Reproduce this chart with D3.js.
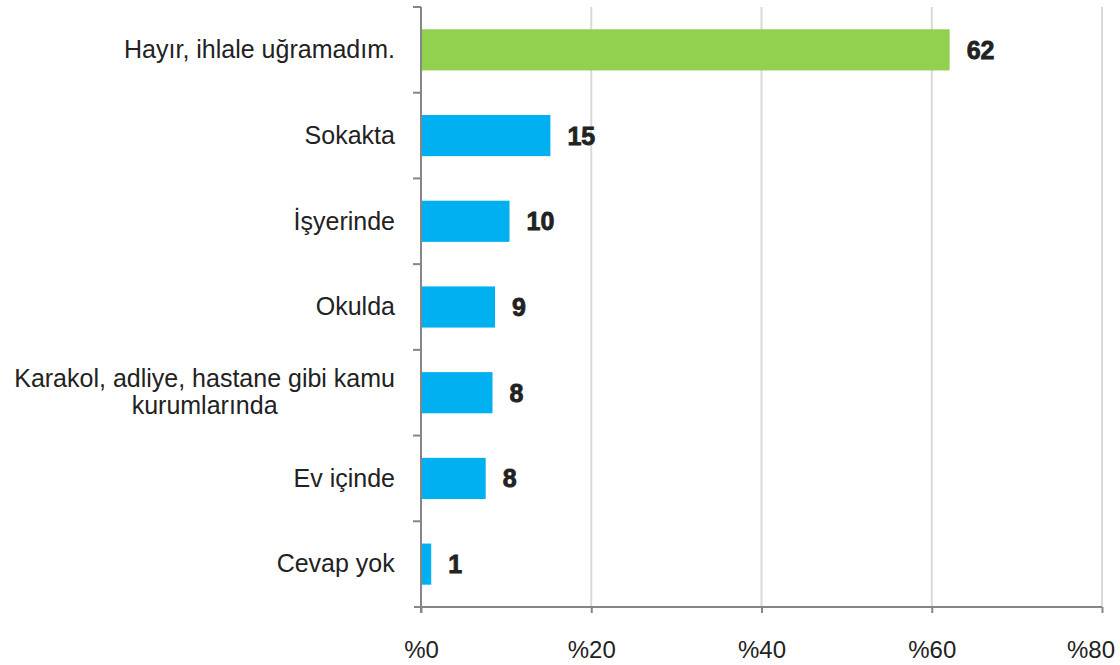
<!DOCTYPE html>
<html>
<head>
<meta charset="utf-8">
<script src="https://cdn.jsdelivr.net/npm/d3@7"></script>
<style>
  html, body { margin: 0; padding: 0; background: #ffffff; }
  svg { display: block; }
</style>
</head>
<body>
<svg id="chart" width="1120" height="665"></svg>
<script>
// Survey answers, top to bottom
const categories = [
  "Hayır, ihlale uğramadım.",
  "Sokakta",
  "İşyerinde",
  "Okulda",
  "Karakol, adliye, hastane gibi kamu kurumlarında",
  "Ev içinde",
  "Cevap yok"
];
const values = [62.1, 15.2, 10.4, 8.7, 8.4, 7.6, 1.2];
const tickValues = [0, 20, 40, 60, 80];
const barColors = ["#92d050", "#00b0f0", "#00b0f0", "#00b0f0", "#00b0f0", "#00b0f0", "#00b0f0"];

const margin = { left: 421, right: 18, top: 7, bottom: 58 };
const W = 1120, H = 665;
const svg = d3.select("#chart");

const x = d3.scaleLinear().domain([0, 80]).range([margin.left, W - margin.right]);
const y = d3.scaleBand().domain(categories).range([margin.top, H - margin.bottom]).paddingInner(0.52).paddingOuter(0.26);

const axisColor = "#868686";
const labelFont = "'Liberation Sans', Arial, sans-serif";

// vertical gridlines
svg.append("g")
  .selectAll("line")
  .data(tickValues.filter(d => d > 0))
  .join("line")
  .attr("x1", d => x(d)).attr("x2", d => x(d))
  .attr("y1", margin.top).attr("y2", H - margin.bottom)
  .attr("stroke", "#d9d9d9").attr("stroke-width", 2);

// bars
svg.append("g")
  .selectAll("rect")
  .data(categories)
  .join("rect")
  .attr("x", x(0))
  .attr("y", d => y(d))
  .attr("width", (d, i) => x(values[i]) - x(0))
  .attr("height", y.bandwidth())
  .attr("fill", (d, i) => barColors[i]);

// value labels
svg.append("g")
  .selectAll("text")
  .data(categories)
  .join("text")
  .attr("x", (d, i) => x(values[i]) + 17)
  .attr("y", d => y(d) + y.bandwidth() / 2)
  .attr("dy", "0.36em")
  .attr("font-family", labelFont)
  .attr("font-weight", "bold")
  .attr("font-size", 25)
  .attr("stroke", "#222222")
  .attr("stroke-width", 0.8)
  .attr("fill", "#222222")
  .text((d, i) => Math.round(values[i]));

// x axis
const xAxis = d3.axisBottom(x)
  .tickValues(tickValues)
  .tickSize(6)
  .tickSizeOuter(0)
  .tickPadding(16)
  .tickFormat(d => "%" + d);
const gx = svg.append("g")
  .attr("transform", `translate(0,${H - margin.bottom})`)
  .call(xAxis);
gx.select(".domain").attr("stroke", axisColor).attr("stroke-width", 2)
  .attr("d", `M${x(0) - 7},0H${x(80)}`);
gx.selectAll(".tick line").attr("stroke", axisColor).attr("stroke-width", 2);
gx.selectAll(".tick text")
  .attr("font-family", labelFont)
  .attr("font-size", 24)
  .attr("fill", "#222222")
  .attr("y", 51)
  .attr("dy", 0);
// keep the last tick label inside the chart
gx.selectAll(".tick text").each(function () {
  const b = this.getBBox();
  const tr = this.parentNode.transform.baseVal.consolidate().matrix.e;
  const right = tr + b.x + b.width;
  if (right > W - 5) d3.select(this).attr("x", (W - 5) - right);
});

// y axis: line with ticks at category boundaries
const boundaries = d3.range(categories.length + 1).map(i =>
  margin.top + i * (H - margin.bottom - margin.top) / categories.length);
svg.append("line")
  .attr("x1", x(0)).attr("x2", x(0))
  .attr("y1", margin.top).attr("y2", H - margin.bottom + 6)
  .attr("stroke", axisColor).attr("stroke-width", 2);
svg.append("g")
  .selectAll("line")
  .data(boundaries.slice(0, -1))
  .join("line")
  .attr("x1", x(0) - 8).attr("x2", x(0))
  .attr("y1", d => d).attr("y2", d => d)
  .attr("stroke", axisColor).attr("stroke-width", 2);

// category labels (long one wraps to two lines)
const wrapLines = {
  "Karakol, adliye, hastane gibi kamu kurumlarında": ["Karakol, adliye, hastane gibi kamu", "kurumlarında"]
};
const catG = svg.append("g");
categories.forEach(c => {
  const lines = wrapLines[c] || [c];
  const cy = y(c) + y.bandwidth() / 2;
  const lh = 27;
  const t = catG.append("text")
    .attr("text-anchor", "middle")
    .attr("font-family", labelFont)
    .attr("font-size", 25)
    .attr("fill", "#222222");
  lines.forEach((ln, i) => {
    t.append("tspan")
      .attr("x", 0)
      .attr("y", cy + (i - (lines.length - 1) / 2) * lh)
      .attr("dy", "0.33em")
      .text(ln);
  });
  // right edge of widest line sits at a fixed gap from the axis
  const bw = t.node().getBBox().width;
  t.selectAll("tspan").attr("x", x(0) - 26 - bw / 2);
});
</script>
</body>
</html>
